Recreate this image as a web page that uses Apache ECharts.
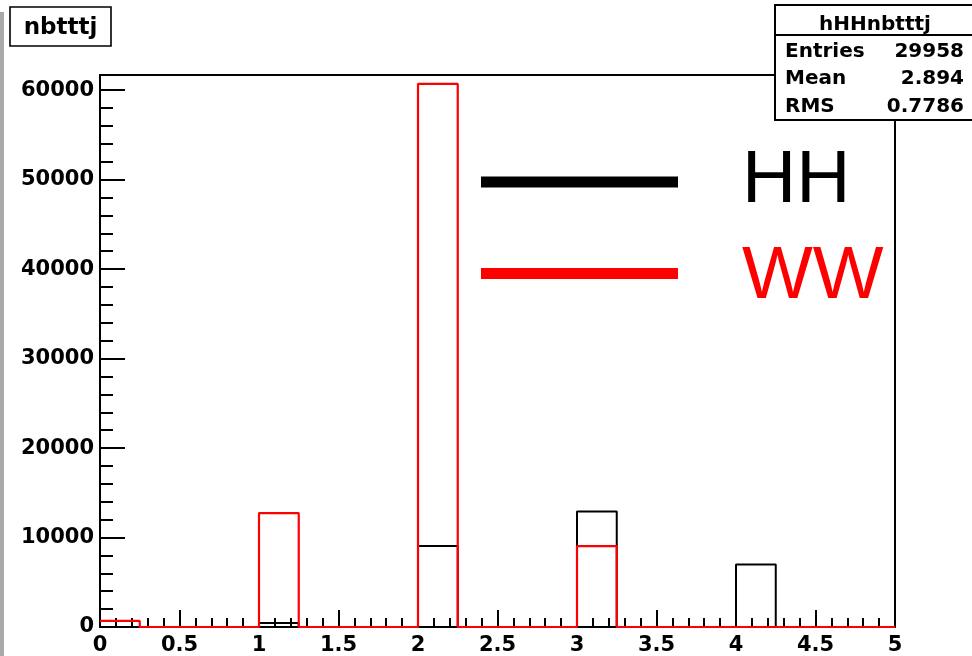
<!DOCTYPE html>
<html>
<head>
<meta charset="utf-8">
<script src="https://cdn.jsdelivr.net/npm/echarts@6/dist/echarts.min.js"></script>
<style>html,body{margin:0;padding:0;background:#fff}#c{width:972px;height:656px}</style>
</head>
<body>
<div id="c"></div>
<script>
// Bin lower edges (20 bins of width 0.25 from 0 to 5) and the upper edge
const binLow = [0, 0.25, 0.5, 0.75, 1, 1.25, 1.5, 1.75, 2, 2.25, 2.5, 2.75, 3, 3.25, 3.5, 3.75, 4, 4.25, 4.5, 4.75];
const binHigh = 5;
const seriesNames = ['HH', 'WW'];
const hhValues = [0, 0, 0, 0, 450, 0, 0, 0, 9050, 0, 0, 0, 12920, 0, 0, 0, 6990, 0, 0, 0];
const wwValues = [680, 0, 0, 0, 12730, 0, 0, 0, 60700, 0, 0, 0, 9050, 0, 0, 0, 0, 0, 0, 0];
const xTicks = [0, 0.5, 1, 1.5, 2, 2.5, 3, 3.5, 4, 4.5, 5];
const yTicks = [0, 10000, 20000, 30000, 40000, 50000, 60000];
const histTitle = 'nbtttj';
const statsTitle = 'hHHnbtttj';
const statsLabels = ['Entries', 'Mean', 'RMS'];
const statsValues = ['29958', '2.894', '0.7786'];

function stepData(vals) {
  const d = binLow.map((x, i) => [x, vals[i]]);
  d.push([binHigh, vals[vals.length - 1]]);
  return d;
}

const chart = echarts.init(document.getElementById('c'), null, {renderer: 'canvas'});
const labelFont = {fontFamily: 'DejaVu Sans', fontWeight: 'bold', fontSize: 21, color: '#000'};
const yMax = 61700;

const g = [];
// gray strip on the left edge
g.push({type: 'rect', shape: {x: 0, y: 12, width: 4, height: 644}, style: {fill: '#a9a9a9'}, z: 100});
// title box
g.push({type: 'rect', shape: {x: 10, y: 7, width: 101, height: 39}, style: {fill: '#fff', stroke: '#000', lineWidth: 1.6}, z: 100});
g.push({type: 'text', style: {text: histTitle, x: 60.5, y: 28, textAlign: 'center', textVerticalAlign: 'middle', font: 'bold 23px "DejaVu Sans"', fill: '#000'}, z: 101});
// stats box
g.push({type: 'rect', shape: {x: 775, y: 5, width: 210, height: 115}, style: {fill: '#fff', stroke: '#000', lineWidth: 2}, z: 100});
g.push({type: 'line', shape: {x1: 775, y1: 35, x2: 980, y2: 35}, style: {stroke: '#000', lineWidth: 2}, z: 101});
g.push({type: 'text', style: {text: statsTitle, x: 875, y: 25, textAlign: 'center', textVerticalAlign: 'middle', font: 'bold 20px "DejaVu Sans"', fill: '#000'}, z: 101});
const rowY = [52, 79, 107];
statsLabels.forEach((t, i) => {
  g.push({type: 'text', style: {text: t, x: 785, y: rowY[i], textAlign: 'left', textVerticalAlign: 'middle', font: 'bold 20px "DejaVu Sans"', fill: '#000'}, z: 101});
  g.push({type: 'text', style: {text: statsValues[i], x: 964, y: rowY[i], textAlign: 'right', textVerticalAlign: 'middle', font: 'bold 20px "DejaVu Sans"', fill: '#000'}, z: 101});
});
// legend
const legColors = ['#000000', '#ff0000'];
const legY = [182, 273.5];
const legTextY = [181.6, 277.8];
seriesNames.forEach((n, i) => {
  g.push({type: 'rect', shape: {x: 481, y: legY[i] - 5.5, width: 197, height: 11}, style: {fill: legColors[i]}, z: 100});
  g.push({type: 'text', style: {text: n, x: 742, y: legTextY[i], textAlign: 'left', textVerticalAlign: 'middle', font: '75px "Liberation Sans"', fill: legColors[i]}, z: 100});
});

const option = {
  animation: false,
  backgroundColor: '#fff',
  grid: {left: 100, right: 77, top: 75, bottom: 27, show: true, borderColor: '#000', borderWidth: 2, backgroundColor: 'transparent'},
  xAxis: {
    type: 'value', min: xTicks[0], max: xTicks[xTicks.length - 1], interval: 0.5,
    axisLine: {show: true, onZero: false, lineStyle: {color: '#000', width: 2}},
    axisTick: {show: true, inside: true, length: 17, lineStyle: {color: '#000', width: 2}},
    minorTick: {show: true, splitNumber: 5, length: 9, lineStyle: {color: '#000', width: 2}},
    splitLine: {show: false},
    axisLabel: Object.assign({margin: 8, showMinLabel: true, showMaxLabel: true}, labelFont)
  },
  yAxis: [{
    type: 'value', min: yTicks[0], max: yMax, interval: 10000, position: 'left',
    axisLine: {show: true, onZero: false, lineStyle: {color: '#000', width: 2}},
    axisTick: {show: true, inside: true, length: 25, lineStyle: {color: '#000', width: 2}},
    splitLine: {show: false},
    axisLabel: Object.assign({margin: 6, showMaxLabel: false, formatter: v => (yTicks.indexOf(v) >= 0 ? String(v) : '')}, labelFont)
  }, {
    type: 'value', min: yTicks[0], max: yMax, interval: 2000, position: 'left', offset: 0,
    axisLine: {show: false},
    axisTick: {show: true, inside: true, length: 13, lineStyle: {color: '#000', width: 2}},
    splitLine: {show: false},
    axisLabel: {show: false}
  }],
  graphic: g,
  series: [{
    name: seriesNames[0], type: 'line', step: 'end', symbol: 'none', yAxisIndex: 0,
    data: stepData(hhValues), lineStyle: {color: '#000', width: 2}, itemStyle: {color: '#000'}, z: 3
  }, {
    name: seriesNames[1], type: 'line', step: 'end', symbol: 'none', yAxisIndex: 0,
    data: stepData(wwValues), lineStyle: {color: '#ff0000', width: 2.2}, itemStyle: {color: '#ff0000'}, z: 4
  }]
};
chart.setOption(option);
</script>
</body>
</html>
